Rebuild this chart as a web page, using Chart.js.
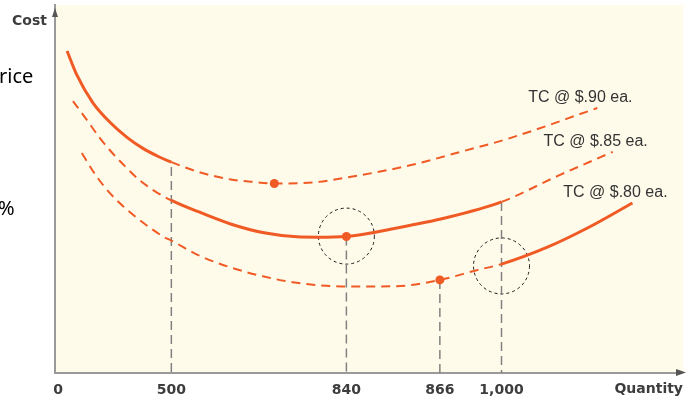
<!DOCTYPE html>
<html>
<head>
<meta charset="utf-8">
<title>Total cost with quantity discounts</title>
<script src="https://cdn.jsdelivr.net/npm/chart.js@4.4.1/dist/chart.umd.min.js"></script>
<style>
  html, body { margin: 0; padding: 0; background: #fff; }
  #wrap { position: relative; width: 686px; height: 403px; }
</style>
</head>
<body>
<div id="wrap"><canvas id="costChart"></canvas></div>
<script>
// Total cost curves for three price breaks (schematic, the cost axis has no numbers)

const qtyTicks = [0, 500, 840, 866, 1000];

// TC @ $.90 ea.
const qty90  = [40, 83, 154, 228, 303, 373, 447, 500, 551, 615, 654, 700, 776, 840, 858, 911, 1013, 1213];
const cost90 = [87.5, 81.0, 73.4, 68.2, 64.1, 61.1, 58.7, 57.3, 54.7, 52.6, 52.0, 51.5, 51.8, 53.1, 56.5, 60.1, 63.6, 72.0];

// TC @ $.85 ea.
const qty85  = [66, 127, 184, 228, 303, 360, 425, 500, 551, 615, 680, 744, 783, 840, 854, 877, 1000, 1124, 1247];
const cost85 = [73.9, 68.8, 63.9, 60.6, 55.7, 52.4, 49.5, 46.9, 43.9, 40.5, 38.1, 37.0, 36.9, 37.1, 39.4, 42.1, 46.5, 53.5, 60.1];

// TC @ $.80 ea.
const qty80  = [105, 154, 206, 272, 351, 469, 500, 551, 615, 680, 744, 840, 854, 866, 948, 1000, 1102, 1191, 1291];
const cost80 = [59.8, 54.9, 50.5, 46.2, 42.0, 36.9, 36.0, 32.1, 28.7, 26.2, 24.5, 23.5, 23.6, 25.3, 28.0, 29.6, 34.2, 39.4, 46.2];

// EOQ for each price
const eoqQty  = [700, 840, 866];
const eoqCost = [51.5, 37.1, 25.3];

// dashed drops to the quantity axis
const dropQty  = [500, 840, 866, 1000];
const dropCost = [56.0, 37.1, 25.3, 46.5];

// the two points the figure rings
const ringQty  = [840, 1000];
const ringCost = [37.2, 29.1];

const seriesNames = ['TC @ $.90 ea.', 'TC @ $.85 ea.', 'TC @ $.80 ea.'];

// the book does not draw quantity to scale: where each break sits along the axis (0..1)
const axisQty  = [-13, 0, 500, 840, 866, 1000, 1400];
const axisFrac = [0, 0.0048, 0.1857, 0.4651, 0.6143, 0.7127, 1];

const ORANGE = '#f05a24';
const DASH = [9, 6];

function interp(v, xs, ys) {
    if (v <= xs[0]) return ys[0];
    for (let i = 1; i < xs.length; i++) {
        if (v <= xs[i]) {
            const t = (v - xs[i - 1]) / (xs[i] - xs[i - 1]);
            return ys[i - 1] + t * (ys[i] - ys[i - 1]);
        }
    }
    return ys[ys.length - 1];
}

class WarpScale extends Chart.LinearScale {
    getPixelForValue(value) {
        if (value === null || value === undefined) return NaN;
        return this.getPixelForDecimal(interp(value, axisQty, axisFrac));
    }
    getValueForPixel(pixel) {
        return interp(this.getDecimalForPixel(pixel), axisFrac, axisQty);
    }
}
WarpScale.id = 'warp';
WarpScale.defaults = Chart.LinearScale.defaults;
Chart.register(WarpScale);

function points(xs, ys) {
    return xs.map((x, i) => ({ x: x, y: ys[i] }));
}

// solid between solidFrom and solidTo, dashed elsewhere
function curve(xs, ys, solidFrom, solidTo) {
    const solid = ctx => ctx.p0.parsed.x >= solidFrom && ctx.p1.parsed.x <= solidTo;
    return {
        data: points(xs, ys),
        borderColor: ORANGE,
        borderWidth: 2,
        pointRadius: 0,
        cubicInterpolationMode: 'monotone',
        segment: {
            borderDash: ctx => solid(ctx) ? [] : DASH,
            borderWidth: ctx => solid(ctx) ? 3 : 2
        }
    };
}

const curves = [
    curve(qty90, cost90, 0, 500),
    curve(qty85, cost85, 500, 1000),
    curve(qty80, cost80, 1000, Infinity)
];

const eoqDots = {
    data: points(eoqQty, eoqCost),
    showLine: false,
    pointRadius: 4.5,
    pointBackgroundColor: ORANGE,
    pointBorderWidth: 0
};

const drops = dropQty.map((q, i) => ({
    data: [{ x: q, y: dropCost[i] }, { x: q, y: 0 }],
    borderColor: '#808080',
    borderWidth: 1.5,
    borderDash: [9, 5],
    pointRadius: 0,
    tension: 0
}));

const decorations = {
    id: 'decorations',
    beforeDraw(chart) {
        const { ctx, chartArea: a } = chart;
        ctx.save();
        ctx.fillStyle = '#fffbeb';
        ctx.fillRect(a.left, a.top, a.right - a.left + 2, a.bottom - a.top);
        ctx.restore();
    },
    beforeDatasetsDraw(chart) {
        const { ctx, scales: { x, y } } = chart;
        ctx.save();
        ctx.strokeStyle = '#1a1a1a';
        ctx.lineWidth = 1;
        ctx.setLineDash([3, 3]);
        ringQty.forEach((q, i) => {
            ctx.beginPath();
            ctx.arc(x.getPixelForValue(q), y.getPixelForValue(ringCost[i]), 28, 0, Math.PI * 2);
            ctx.stroke();
        });
        ctx.restore();
    },
    afterDraw(chart) {
        const { ctx, chartArea: a, scales: { x, y } } = chart;
        ctx.save();

        // arrow heads
        ctx.fillStyle = '#555';
        ctx.beginPath();
        ctx.moveTo(a.left, 8);
        ctx.lineTo(a.left - 3, 17);
        ctx.lineTo(a.left + 3, 17);
        ctx.fill();
        ctx.beginPath();
        ctx.moveTo(686, a.bottom - 0.5);
        ctx.lineTo(676, a.bottom - 4);
        ctx.lineTo(676, a.bottom + 3);
        ctx.fill();

        // axis titles
        ctx.fillStyle = '#3d3d3d';
        ctx.font = 'bold 14px "DejaVu Sans"';
        ctx.textBaseline = 'alphabetic';
        ctx.textAlign = 'right';
        ctx.fillText('Cost', 47, 25);
        ctx.fillText('Quantity', 683, 393);

        // curve names next to their right ends
        ctx.fillStyle = '#333';
        ctx.font = '16px "Liberation Sans"';
        ctx.textAlign = 'center';
        ctx.textBaseline = 'middle';
        [[qty90, cost90], [qty85, cost85], [qty80, cost80]].forEach(([xs, ys], i) => {
            const px = x.getPixelForValue(xs[xs.length - 1]);
            const py = y.getPixelForValue(ys[ys.length - 1]);
            ctx.fillText(seriesNames[i], px - 17, py - 10);
        });

        // bits of the slide text behind the figure
        ctx.fillStyle = '#000';
        ctx.font = '20px "Noto Sans"';
        ctx.textAlign = 'left';
        ctx.textBaseline = 'alphabetic';
        ctx.fillText('rice', -1, 83);
        ctx.fillText('%', -2, 215);
        ctx.restore();
    }
};

new Chart(document.getElementById('costChart'), {
    type: 'line',
    data: { datasets: [eoqDots, ...curves, ...drops] },
    plugins: [decorations],
    options: {
        responsive: true,
        maintainAspectRatio: false,
        animation: false,
        layout: { padding: { top: 5, right: 1, bottom: 0, left: 0 } },
        plugins: {
            legend: { display: false },
            tooltip: { enabled: false }
        },
        scales: {
            x: {
                type: 'warp',
                min: -13,
                max: 1400,
                grid: { display: false, drawTicks: false },
                border: { display: true, color: '#9a9a9a', width: 2 },
                afterBuildTicks: s => { s.ticks = qtyTicks.map(v => ({ value: v })); },
                afterFit: s => { s.height = 30; },
                ticks: {
                    autoSkip: false,
                    maxRotation: 0,
                    padding: 9,
                    color: '#3d3d3d',
                    font: { family: 'DejaVu Sans', weight: 'bold', size: 14 },
                    callback: v => String(v).replace(/\B(?=(\d{3})+(?!\d))/g, ',')
                }
            },
            y: {
                min: 0,
                max: 100,
                grid: { display: false, drawTicks: false },
                border: { display: true, color: '#9a9a9a', width: 2 },
                ticks: { display: false },
                afterFit: s => { s.width = 55; }
            }
        }
    }
});
</script>
</body>
</html>
